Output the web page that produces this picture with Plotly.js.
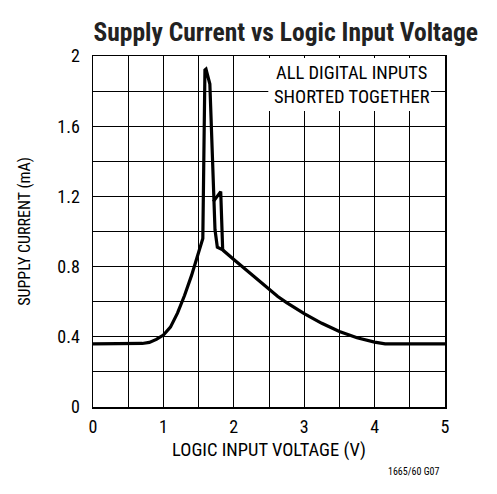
<!DOCTYPE html>
<html>
<head>
<meta charset="utf-8">
<script src="https://cdn.plot.ly/plotly-3.0.1.min.js"></script>
<style>html,body{margin:0;padding:0;background:#fff;}#chart{width:497px;height:494px;}</style>
</head>
<body>
<div id="chart"></div>
<script>
// Main curve: supply current (mA) vs logic input voltage (V)
const voltage = [0, 0.5, 0.7, 0.8, 0.9, 1.0, 1.1, 1.2, 1.3, 1.4, 1.5, 1.56, 1.59, 1.605, 1.66, 1.71, 1.733, 1.766, 1.842, 2.0, 2.25, 2.5, 2.625, 2.75, 2.875, 3.0, 3.25, 3.5, 3.75, 4.0, 4.15, 4.5, 5.0];
const current = [0.36, 0.36, 0.362, 0.368, 0.385, 0.41, 0.455, 0.535, 0.635, 0.75, 0.88, 0.96, 1.92, 1.925, 1.84, 1.17, 1.01, 0.91, 0.895, 0.84, 0.757, 0.67, 0.63, 0.595, 0.562, 0.532, 0.477, 0.43, 0.395, 0.37, 0.36, 0.36, 0.36];
// Small hook branch near 1.7–1.85 V
const hookVoltage = [1.709, 1.814, 1.842];
const hookCurrent = [1.17, 1.227, 0.895];

const fontFam = '"Roboto Condensed", sans-serif';

const traces = [
  {x: voltage, y: current, mode: 'lines', line: {color: '#000', width: 3.2, shape: 'linear'}, hoverinfo: 'skip'},
  {x: hookVoltage, y: hookCurrent, mode: 'lines', line: {color: '#000', width: 3.2}, hoverinfo: 'skip'}
];

const layout = {
  width: 497, height: 494,
  margin: {l: 93, r: 52, t: 56, b: 87},
  paper_bgcolor: '#fff', plot_bgcolor: '#fff',
  showlegend: false,
  font: {family: fontFam, color: '#000', size: 16},
  title: {text: '<b>Supply Current vs Logic Input Voltage</b>', x: 0.575, xanchor: 'center', y: 0.935, yanchor: 'middle',
          font: {family: fontFam, size: 25.5, color: '#222'}},
  xaxis: {
    range: [0, 5], dtick: 1, tick0: 0, ticks: '', showgrid: true, gridcolor: '#000', gridwidth: 1,
    minor: {dtick: 0.5, showgrid: true, gridcolor: '#000', gridwidth: 1, ticks: ''},
    showline: true, linecolor: '#000', linewidth: 1.5, mirror: true, zeroline: false,
    tickfont: {size: 18, family: fontFam}, ticklabelstandoff: 3,
    title: {text: 'LOGIC INPUT VOLTAGE (V)', font: {size: 18.5, family: fontFam}, standoff: 7}
  },
  yaxis: {
    range: [0, 2], dtick: 0.4, tick0: 0, ticks: '', showgrid: true, gridcolor: '#000', gridwidth: 1,
    minor: {dtick: 0.2, showgrid: true, gridcolor: '#000', gridwidth: 1, ticks: ''},
    showline: true, linecolor: '#000', linewidth: 1.5, mirror: true, zeroline: false,
    tickfont: {size: 18, family: fontFam}, ticklabelstandoff: 8,
    title: {text: 'SUPPLY CURRENT (mA)', font: {size: 16, family: fontFam}, standoff: 23}
  },
  shapes: [
    {type: 'rect', xref: 'x', yref: 'y', x0: 2.49, x1: 4.80, y0: 1.687, y1: 1.989,
     fillcolor: '#fff', line: {width: 0}, layer: 'between'}
  ],
  annotations: [
    {xref: 'x', yref: 'y', x: 3.68, y: 1.835, text: 'ALL DIGITAL INPUTS<br>SHORTED TOGETHER', showarrow: false,
     font: {size: 18.5, family: fontFam, color: '#000'}, align: 'center'},
    {xref: 'paper', yref: 'paper', x: 0.99, y: -0.185, xanchor: 'right', yanchor: 'middle', text: '1665/60 G07', showarrow: false,
     font: {size: 10, family: fontFam, color: '#000'}}
  ]
};

Plotly.newPlot('chart', traces, layout, {staticPlot: true, displayModeBar: false});
</script>
</body>
</html>
